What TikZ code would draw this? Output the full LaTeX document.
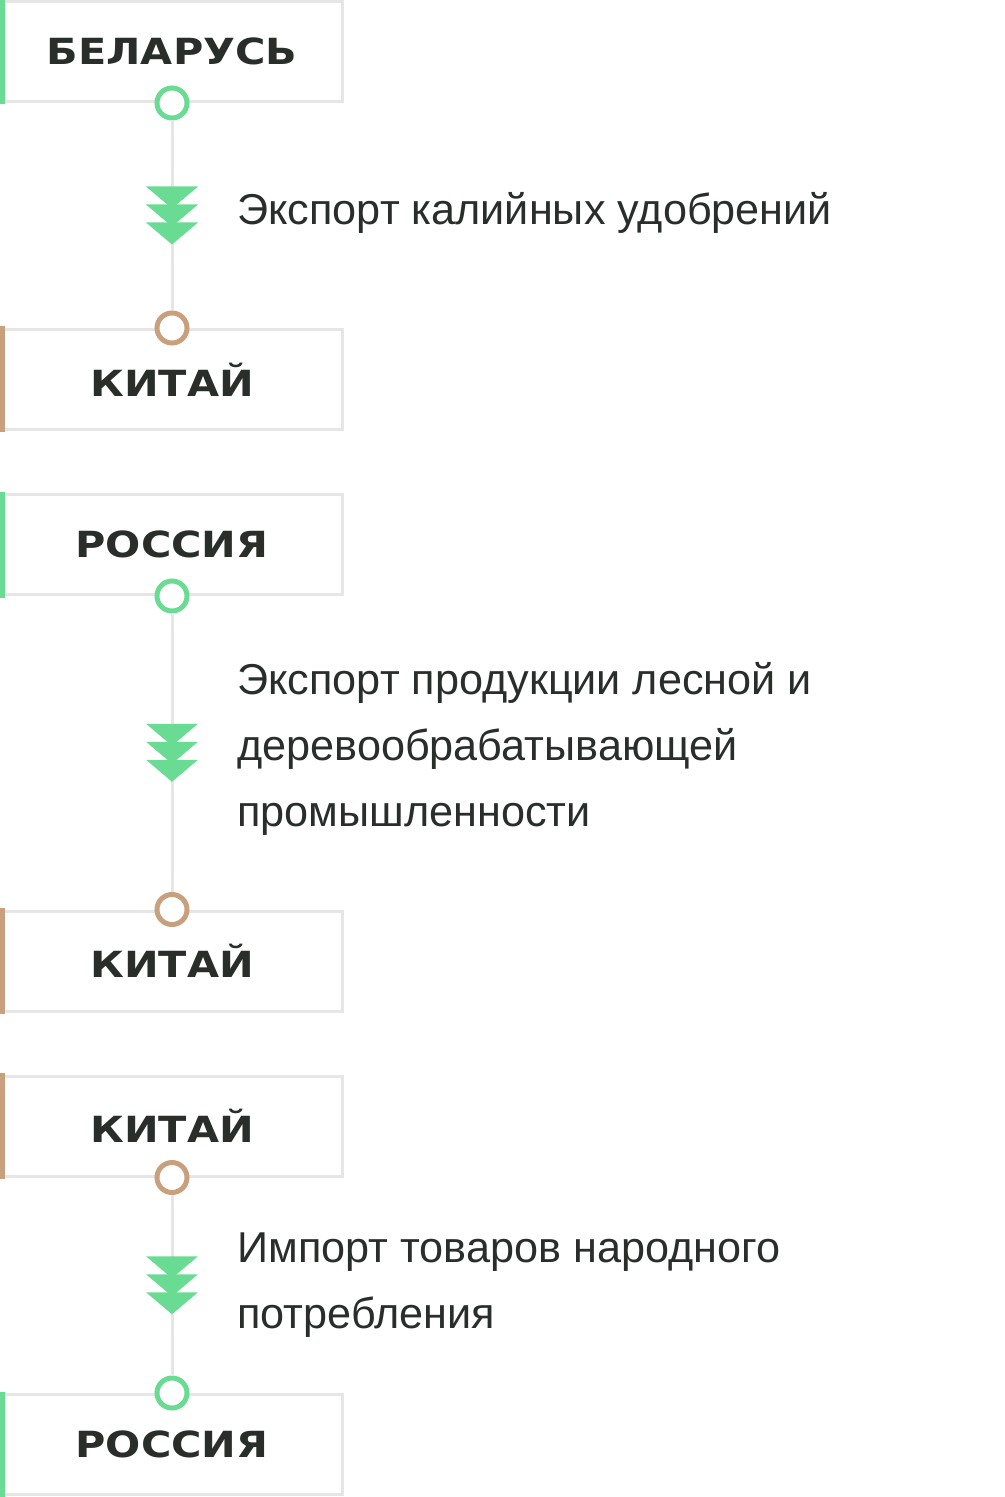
\documentclass[tikz,border=0pt]{standalone}
\usepackage{fontspec}
\setmainfont{Liberation Sans}
\newfontfamily\headfamily{DejaVu Sans}[FakeStretch=1.15]
\usepackage{tikz}
\usetikzlibrary{positioning}
\definecolor{ink}{RGB}{42,46,43}
\definecolor{frame}{RGB}{230,230,230}
\definecolor{leaf}{RGB}{106,219,147}
\definecolor{clay}{RGB}{200,160,125}
\tikzset{chev/.pic={\foreach \d in {0,18,36} \fill[leaf] (-26,-29+\d) -- (26,-29+\d) -- (0,-7+\d) -- cycle;}}

\begin{document}
\begin{tikzpicture}[x=0.5pt, y=-0.5pt,
    box/.style={draw=frame, line width=1.5pt, minimum width=170.5pt, minimum height=50pt, inner sep=0pt,
                text=ink, font=\headfamily\bfseries\fontsize{18}{22}\selectfont},
    dot/.style={circle, draw=#1, fill=white, line width=2.5pt, minimum size=15pt, inner sep=0pt},
    link/.style={draw=frame, line width=1.5pt},
    lbl/.style={anchor=west, align=left, text=ink, inner sep=0pt, font=\fontsize{21.6}{33}\selectfont}]
  \useasboundingbox (0,0) rectangle (1005,1497);
  \fill[white] (0,0) rectangle (1005,1497);
  % country boxes with coloured side bar
  \foreach \n/\y/\c/\t in {by/51.5/leaf/БЕЛАРУСЬ, cn1/379.5/clay/КИТАЙ, ru1/544.5/leaf/РОССИЯ,
                           cn2/961/clay/КИТАЙ, cn3/1126/clay/КИТАЙ, ru2/1444.5/leaf/РОССИЯ} {
    \node[box] (\n) at (172,\y) {\t};
    \fill[\c] ([xshift=-0.75pt,yshift=0.75pt]\n.north west) rectangle ([xshift=2.25pt,yshift=-0.75pt]\n.south west);
  }
  \node[dot=leaf] (byo) at (by.south) {};
  \node[dot=clay] (cn1i) at (cn1.north) {};
  \node[dot=leaf] (ru1o) at (ru1.south) {};
  \node[dot=clay] (cn2i) at (cn2.north) {};
  \node[dot=clay] (cn3o) at (cn3.south) {};
  \node[dot=leaf] (ru2i) at (ru2.north) {};
  % flows
  \draw[link] (byo) -- (cn1i);
  \draw[link] (ru1o) -- (cn2i);
  \draw[link] (cn3o) -- (ru2i);
  \path (byo) -- pic[pos=0.5]{chev} (cn1i);
  \path (ru1o) -- pic[pos=0.5]{chev} (cn2i);
  \path (cn3o) -- pic[pos=0.5]{chev} (ru2i);
  \node[lbl] (t1) at (237,213) {Экспорт калийных удобрений};
  \node[lbl] (t2) at (237,749) {Экспорт продукции лесной и\\деревообрабатывающей\\промышленности};
  \node[lbl] (t3) at (237,1285) {Импорт товаров народного\\потребления};
\end{tikzpicture}
\end{document}
